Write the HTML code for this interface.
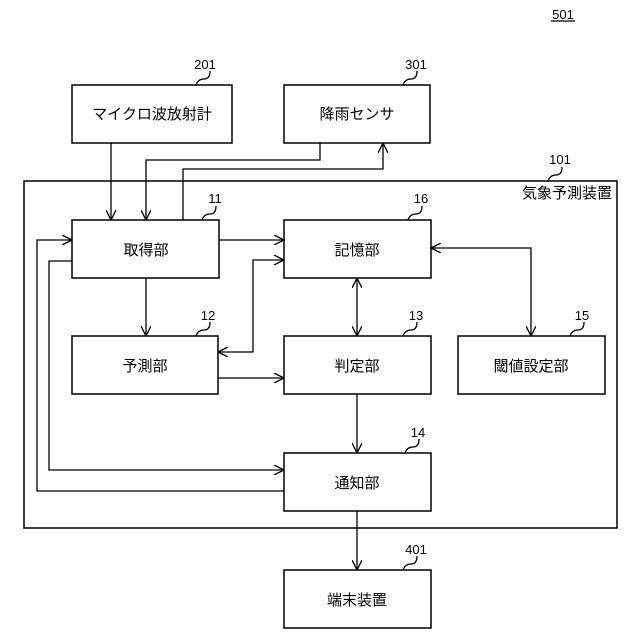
<!DOCTYPE html>
<html><head><meta charset="utf-8"><style>
html,body{margin:0;padding:0;background:#fff;}
svg{display:block}
text{font-family:"Liberation Sans","Noto Sans CJK JP",sans-serif;fill:#000}
</style></head><body>
<svg width="640" height="640" viewBox="0 0 640 640" xmlns="http://www.w3.org/2000/svg">
<defs>
<marker id="a" viewBox="0 0 10 10" refX="10" refY="5" markerWidth="10" markerHeight="10" orient="auto-start-reverse" markerUnits="userSpaceOnUse">
<path d="M0,0 L10,5 L0,10" fill="none" stroke="#000" stroke-width="1.3"/>
</marker>
</defs>
<g fill="none" stroke="#000" stroke-width="1.5">
<rect x="24" y="181" width="593" height="347"/>
<rect x="72" y="85" width="160" height="58"/>
<rect x="284" y="85" width="146" height="58"/>
<rect x="72" y="220" width="147" height="58"/>
<rect x="72" y="336" width="146" height="58"/>
<rect x="284" y="220" width="147" height="58"/>
<rect x="284" y="336" width="147" height="58"/>
<rect x="458" y="336" width="147" height="58"/>
<rect x="284" y="453" width="147" height="58"/>
<rect x="284" y="570" width="147" height="58"/>
</g>
<g fill="none" stroke="#000" stroke-width="1.3">
<path d="M111,143 V220" marker-end="url(#a)"/>
<path d="M320,143 V160 H146 V220" marker-end="url(#a)"/>
<path d="M183,220 V169 H383 V143" marker-end="url(#a)"/>
<path d="M284,491 H37 V240 H72" marker-end="url(#a)"/>
<path d="M72,261 H49 V470 H284" marker-end="url(#a)"/>
<path d="M219,240 H284" marker-end="url(#a)"/>
<path d="M146,278 V336" marker-end="url(#a)"/>
<path d="M284,260 H253 V352 H218" marker-start="url(#a)" marker-end="url(#a)"/>
<path d="M218,378 H284" marker-end="url(#a)"/>
<path d="M357,278 V336" marker-start="url(#a)" marker-end="url(#a)"/>
<path d="M431,248 H531 V336" marker-start="url(#a)" marker-end="url(#a)"/>
<path d="M357,394 V453" marker-end="url(#a)"/>
<path d="M357,511 V570" marker-end="url(#a)"/>
<path d="M196,85 q2,-6 8,-6 q6,0 6,-8"/>
<path d="M403,85 q2,-6 8,-6 q6,0 6,-8"/>
<path d="M548,181 q2,-6 8,-6 q6,0 6,-8"/>
<path d="M202,220 q2,-6 8,-6 q6,0 6,-8"/>
<path d="M408,220 q2,-6 8,-6 q6,0 6,-8"/>
<path d="M196,336 q2,-6 8,-6 q6,0 6,-8"/>
<path d="M403,336 q2,-6 8,-6 q6,0 6,-8"/>
<path d="M570,336 q2,-6 8,-6 q6,0 6,-8"/>
<path d="M405,453 q2,-6 8,-6 q6,0 6,-8"/>
<path d="M403,570 q2,-6 8,-6 q6,0 6,-8"/>
<path d="M551,21 H575"/>
</g>
<g font-size="13">
<text x="563" y="19" text-anchor="middle">501</text>
<text x="205" y="69" text-anchor="middle">201</text>
<text x="416" y="69" text-anchor="middle">301</text>
<text x="560" y="164" text-anchor="middle">101</text>
<text x="215" y="203" text-anchor="middle">11</text>
<text x="421" y="203" text-anchor="middle">16</text>
<text x="208" y="320" text-anchor="middle">12</text>
<text x="416" y="320" text-anchor="middle">13</text>
<text x="582" y="320" text-anchor="middle">15</text>
<text x="418" y="437" text-anchor="middle">14</text>
<text x="416" y="554" text-anchor="middle">401</text>
</g>
<g font-size="15" text-anchor="middle">
<text x="152" y="119">マイクロ波放射計</text>
<text x="357" y="119">降雨センサ</text>
<text x="612" y="198" text-anchor="end">気象予測装置</text>
<text x="146" y="255">取得部</text>
<text x="145" y="371">予測部</text>
<text x="357" y="255">記憶部</text>
<text x="357" y="371">判定部</text>
<text x="531" y="371">閾値設定部</text>
<text x="357" y="488">通知部</text>
<text x="357" y="605">端末装置</text>
</g>
</svg>
</body></html>
